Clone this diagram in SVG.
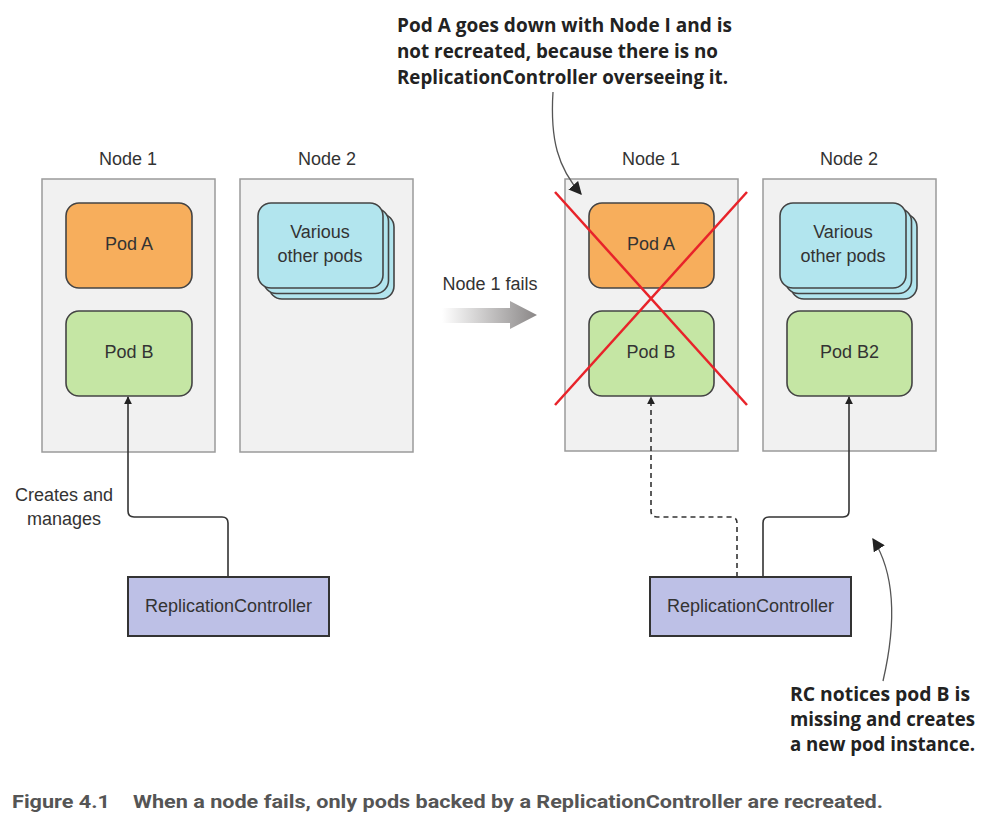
<svg xmlns="http://www.w3.org/2000/svg" width="1003" height="826" viewBox="0 0 1003 826">
<style>
.node{fill:#f1f1f1;stroke:#9a9a9a;stroke-width:1.5}
.pod{stroke:#444;stroke-width:1.6}
.podA{fill:#f7ae5c}
.podB{fill:#c5e6a4}
.podV{fill:#b2e5ee}
.rc{fill:#bdc0e6;stroke:#333;stroke-width:2}
.lbl{font-family:"Liberation Sans",Arial,sans-serif;font-size:18px;fill:#333;text-anchor:middle}
.note{font-family:"Open Sans","Liberation Sans",sans-serif;font-weight:bold;font-size:20px;fill:#222}
.cap{font-family:"Roboto","Liberation Sans",sans-serif;font-weight:bold;font-size:18px;fill:#555}
.conn{fill:none;stroke:#333;stroke-width:1.6}
.dash{stroke-dasharray:5,4}
.cross{stroke:#e8232a;stroke-width:2.5}
.curve{fill:none;stroke:#555;stroke-width:1.3}
</style>
<defs>
<marker id="ah" viewBox="0 0 10 10" refX="9" refY="5" markerWidth="8" markerHeight="8" markerUnits="userSpaceOnUse" orient="auto">
<path d="M0,0 L10,5 L0,10 z" fill="#222"/>
</marker>
<marker id="ah2" viewBox="0 0 10 10" refX="9" refY="5" markerWidth="13" markerHeight="13" markerUnits="userSpaceOnUse" orient="auto">
<path d="M0,0 L10,5 L0,10 z" fill="#222"/>
</marker>
<linearGradient id="fade" x1="0" y1="0" x2="1" y2="0">
<stop offset="0" stop-color="#ffffff"/>
<stop offset="1" stop-color="#8a8787"/>
</linearGradient>
</defs>

<g id="left-node1">
<text class="lbl" x="128" y="165">Node 1</text>
<rect class="node" x="42" y="179" width="173" height="273"/>
</g>
<g id="left-podA">
<rect class="pod podA" x="66" y="203" width="126" height="85" rx="13"/>
<text class="lbl" x="129" y="250">Pod A</text>
</g>
<g id="left-podB">
<rect class="pod podB" x="66" y="311" width="126" height="85" rx="13"/>
<text class="lbl" x="129" y="358">Pod B</text>
</g>
<g id="left-node2">
<text class="lbl" x="327" y="165">Node 2</text>
<rect class="node" x="240" y="179" width="173" height="273"/>
</g>
<g id="left-various">
<rect class="pod podV" x="269" y="214" width="125" height="85" rx="13"/>
<rect class="pod podV" x="263.5" y="208.5" width="125" height="85" rx="13"/>
<rect class="pod podV" x="258" y="203" width="125" height="85" rx="13"/>
<text class="lbl" x="320" y="238">Various</text>
<text class="lbl" x="320" y="262">other pods</text>
</g>
<g id="left-rc">
<rect class="rc" x="128" y="577" width="201" height="59"/>
<text class="lbl" x="228.5" y="612">ReplicationController</text>
</g>
<g id="left-creates-label">
<text class="lbl" x="64" y="501">Creates and</text>
<text class="lbl" x="64" y="525">manages</text>
</g>

<g id="fail-arrow">
<path d="M442,308 L510,308 L510,301 L537,315 L510,329 L510,323 L442,323 z" fill="url(#fade)"/>
<text class="lbl" x="490" y="290">Node 1 fails</text>
</g>

<g id="right-node1">
<text class="lbl" x="651" y="165">Node 1</text>
<rect class="node" x="565" y="179" width="173" height="272"/>
</g>
<g id="right-podA">
<rect class="pod podA" x="589" y="203" width="125" height="85" rx="13"/>
<text class="lbl" x="651" y="250">Pod A</text>
</g>
<g id="right-podB">
<rect class="pod podB" x="589" y="311" width="125" height="85" rx="13"/>
<text class="lbl" x="651" y="358">Pod B</text>
</g>
<g id="right-cross">
<line class="cross" x1="555" y1="192" x2="747" y2="405"/>
<line class="cross" x1="747" y1="192" x2="555" y2="405"/>
</g>
<g id="right-node2">
<text class="lbl" x="849" y="165">Node 2</text>
<rect class="node" x="763" y="179" width="173" height="272"/>
</g>
<g id="right-various">
<rect class="pod podV" x="791" y="214" width="126" height="85" rx="13"/>
<rect class="pod podV" x="785.5" y="208.5" width="126" height="85" rx="13"/>
<rect class="pod podV" x="780" y="203" width="126" height="85" rx="13"/>
<text class="lbl" x="843" y="238">Various</text>
<text class="lbl" x="843" y="262">other pods</text>
</g>
<g id="right-podB2">
<rect class="pod podB" x="787" y="311" width="125" height="85" rx="13"/>
<text class="lbl" x="849.5" y="358">Pod B2</text>
</g>
<g id="right-rc">
<rect class="rc" x="650" y="577" width="201" height="59"/>
<text class="lbl" x="750.5" y="612">ReplicationController</text>
</g>

<g id="connectors">
<path class="conn" d="M228,577 L228,523 Q228,517 222,517 L134,517 Q128,517 128,511 L128,397" marker-end="url(#ah)"/>
<path class="conn dash" d="M737,577 L737,523 Q737,517 731,517 L657,517 Q651,517 651,511 L651,397" marker-end="url(#ah)"/>
<path class="conn" d="M763,577 L763,523 Q763,517 769,517 L843,517 Q849,517 849,511 L849,397" marker-end="url(#ah)"/>
<path class="curve" d="M553,92 C550,140 558,168 581,194" marker-end="url(#ah2)"/>
<path class="curve" d="M883,681 C896,625 896,575 873,539" marker-end="url(#ah2)"/>
</g>

<g id="note-top">
<text class="note" x="397" y="32" textLength="335" lengthAdjust="spacingAndGlyphs">Pod A goes down with Node I and is</text>
<text class="note" x="397" y="58" textLength="321" lengthAdjust="spacingAndGlyphs">not recreated, because there is no</text>
<text class="note" x="397" y="84" textLength="331" lengthAdjust="spacingAndGlyphs">ReplicationController overseeing it.</text>
</g>
<g id="note-bottom">
<text class="note" x="790" y="701" textLength="180" lengthAdjust="spacingAndGlyphs">RC notices pod B is</text>
<text class="note" x="790" y="726" textLength="185" lengthAdjust="spacingAndGlyphs">missing and creates</text>
<text class="note" x="790" y="751" textLength="185" lengthAdjust="spacingAndGlyphs">a new pod instance.</text>
</g>
<g id="caption">
<text class="cap" x="12" y="808" textLength="98" lengthAdjust="spacingAndGlyphs">Figure 4.1</text>
<text class="cap" x="133" y="808" textLength="750" lengthAdjust="spacingAndGlyphs">When a node fails, only pods backed by a ReplicationController are recreated.</text>
</g>
</svg>
